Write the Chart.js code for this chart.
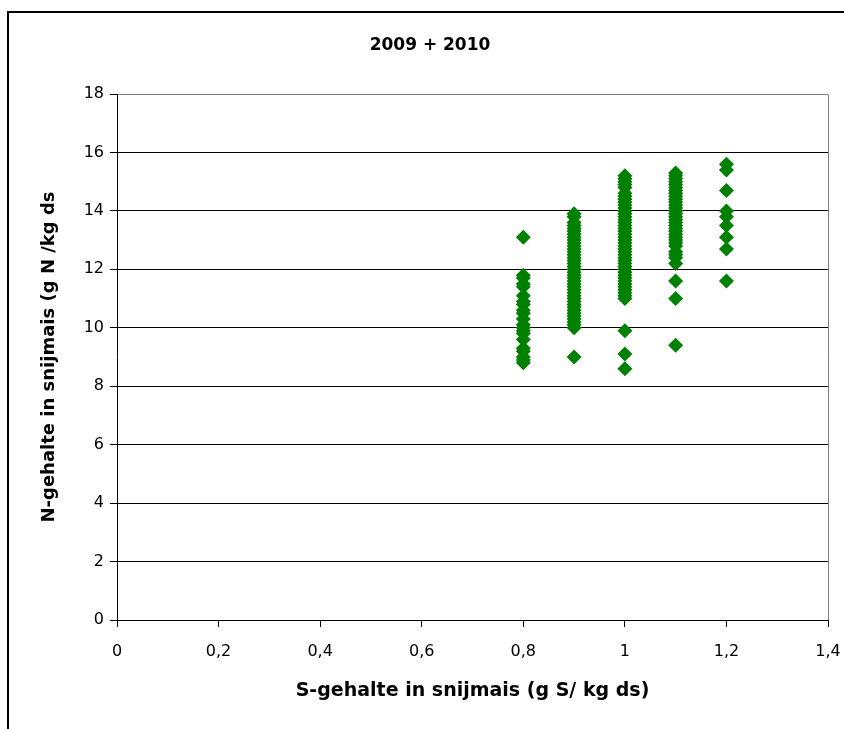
<!DOCTYPE html>
<html>
<head>
<meta charset="utf-8">
<title>N-gehalte versus S-gehalte in snijmais</title>
<script src="https://cdn.jsdelivr.net/npm/chart.js@4/dist/chart.umd.min.js"></script>
<style>
  html, body { margin: 0; padding: 0; background: #ffffff; }
  canvas { display: block; }
</style>
</head>
<body>
<canvas id="chart" width="844" height="729"></canvas>
<script>
// S-gehalte classes (g S / kg ds)
const sulfurLevels = [0.8, 0.9, 1.0, 1.1, 1.2];

// N-gehalte (g N / kg ds) measured per S-gehalte class
const nitrogenAtS08 = [13.1, 11.8, 11.7, 11.5, 11.4, 11.1, 10.9, 10.8, 10.6, 10.5, 10.3, 10.1,
  10.0, 9.9, 9.8, 9.6, 9.3, 9.2, 9.0, 8.9, 8.8];
const nitrogenAtS09 = [13.9, 13.8, 13.6, 13.5, 13.4, 13.3, 13.2, 13.1, 13.0, 12.9, 12.8, 12.7,
  12.6, 12.5, 12.4, 12.3, 12.2, 12.1, 12.0, 11.9, 11.8, 11.7, 11.6, 11.5, 11.4, 11.3, 11.2,
  11.1, 11.0, 10.9, 10.8, 10.7, 10.6, 10.5, 10.4, 10.3, 10.2, 10.1, 10.0, 9.0];
const nitrogenAtS10 = [15.2, 15.1, 15.0, 14.9, 14.8, 14.6, 14.5, 14.4, 14.3, 14.2, 14.1, 14.0,
  13.9, 13.8, 13.7, 13.6, 13.5, 13.4, 13.3, 13.2, 13.1, 13.0, 12.9, 12.8, 12.7, 12.6, 12.5,
  12.4, 12.3, 12.2, 12.1, 12.0, 11.9, 11.8, 11.7, 11.6, 11.5, 11.4, 11.3, 11.2, 11.1, 11.0,
  9.9, 9.1, 8.6];
const nitrogenAtS11 = [15.3, 15.2, 15.1, 15.0, 14.9, 14.8, 14.7, 14.6, 14.5, 14.4, 14.3, 14.2,
  14.1, 14.0, 13.9, 13.8, 13.7, 13.6, 13.5, 13.4, 13.3, 13.2, 13.1, 13.0, 12.9, 12.8, 12.6,
  12.5, 12.4, 12.2, 11.6, 11.0, 9.4];
const nitrogenAtS12 = [15.6, 15.4, 14.7, 14.0, 13.8, 13.5, 13.1, 12.7, 11.6];

const nitrogenBySulfur = [nitrogenAtS08, nitrogenAtS09, nitrogenAtS10, nitrogenAtS11, nitrogenAtS12];

// Axis tick labels (Dutch decimal comma)
const xTickLabels = ['0', '0,2', '0,4', '0,6', '0,8', '1', '1,2', '1,4'];
const yTickLabels = ['0', '2', '4', '6', '8', '10', '12', '14', '16', '18'];

const chartTitle = '2009 + 2010';
const xAxisTitle = 'S-gehalte in snijmais (g S/ kg ds)';
const yAxisTitle = 'N-gehalte in snijmais (g N /kg ds';

// Build scatter points {x: S, y: N}
const points = [];
sulfurLevels.forEach((s, i) => {
  nitrogenBySulfur[i].forEach(n => points.push({ x: s, y: n }));
});

// Outer frame, plot border and title
const frameAndTitle = {
  id: 'frameAndTitle',
  beforeDraw(chart) {
    const ctx = chart.ctx;
    ctx.save();
    ctx.fillStyle = '#ffffff';
    ctx.fillRect(0, 0, chart.width, chart.height);
    ctx.strokeStyle = '#000000';
    ctx.lineWidth = 2;
    ctx.beginPath();
    ctx.moveTo(8, chart.height);
    ctx.lineTo(8, 12);
    ctx.lineTo(chart.width, 12);
    ctx.stroke();
    ctx.restore();
  },
  afterDraw(chart) {
    const ctx = chart.ctx;
    const a = chart.chartArea;
    ctx.save();
    ctx.strokeStyle = '#808080';
    ctx.lineWidth = 1;
    ctx.beginPath();
    ctx.moveTo(Math.round(a.right) + 0.5, Math.round(a.top) + 0.5);
    ctx.lineTo(Math.round(a.right) + 0.5, Math.round(a.bottom));
    ctx.stroke();
    ctx.fillStyle = '#000000';
    ctx.font = 'bold 17px "DejaVu Sans"';
    ctx.textAlign = 'center';
    ctx.textBaseline = 'middle';
    ctx.fillText(chartTitle, 430, 46);
    ctx.restore();
  }
};

new Chart(document.getElementById('chart'), {
  type: 'scatter',
  data: {
    datasets: [{
      label: 'N-gehalte',
      data: points,
      pointStyle: 'rectRot',
      pointRadius: 7.5,
      pointHoverRadius: 7.5,
      borderWidth: 0,
      backgroundColor: '#008000',
      borderColor: '#008000'
    }]
  },
  options: {
    responsive: false,
    animation: false,
    devicePixelRatio: 1,
    layout: { padding: { top: 94, right: 16, bottom: 0, left: 0 } },
    plugins: {
      legend: { display: false },
      title: { display: false },
      tooltip: { enabled: false }
    },
    scales: {
      x: {
        type: 'linear',
        min: 0,
        max: 1.4,
        afterFit(scale) {
          scale.height = 109;
          scale.paddingLeft = 0;
          scale.paddingRight = 0;
        },
        afterBuildTicks(scale) {
          scale.ticks = xTickLabels.map((_, i) => ({ value: i * 0.2 }));
        },
        ticks: {
          autoSkip: false,
          maxRotation: 0,
          padding: 15,
          color: '#000000',
          font: { family: 'DejaVu Sans', size: 16 },
          callback: (value, index) => xTickLabels[index]
        },
        grid: {
          drawOnChartArea: false,
          drawTicks: true,
          tickLength: 7,
          tickColor: '#000000',
          tickWidth: 1
        },
        border: { display: true, color: '#000000', width: 1 },
        title: {
          display: true,
          text: xAxisTitle,
          color: '#000000',
          font: { family: 'DejaVu Sans', size: 19, weight: 'bold' },
          padding: { top: 0, bottom: 27 }
        }
      },
      y: {
        type: 'linear',
        min: 0,
        max: 18,
        afterFit(scale) {
          scale.width = 117;
          scale.paddingTop = 0;
          scale.paddingBottom = 0;
        },
        afterBuildTicks(scale) {
          scale.ticks = yTickLabels.map(t => ({ value: Number(t) }));
        },
        ticks: {
          autoSkip: false,
          padding: 6,
          color: '#000000',
          font: { family: 'DejaVu Sans', size: 16 },
          callback: (value, index) => yTickLabels[index]
        },
        grid: {
          drawTicks: true,
          tickLength: 7,
          tickColor: '#000000',
          lineWidth: 1,
          color: (c) => (c.tick && c.tick.value === 18 ? '#808080' : '#000000')
        },
        border: { display: true, color: '#000000', width: 1 },
        title: {
          display: true,
          text: yAxisTitle,
          color: '#000000',
          font: { family: 'DejaVu Sans', size: 18, weight: 'bold' },
          padding: { top: 39, bottom: 0 }
        }
      }
    }
  },
  plugins: [frameAndTitle]
});
</script>
</body>
</html>
